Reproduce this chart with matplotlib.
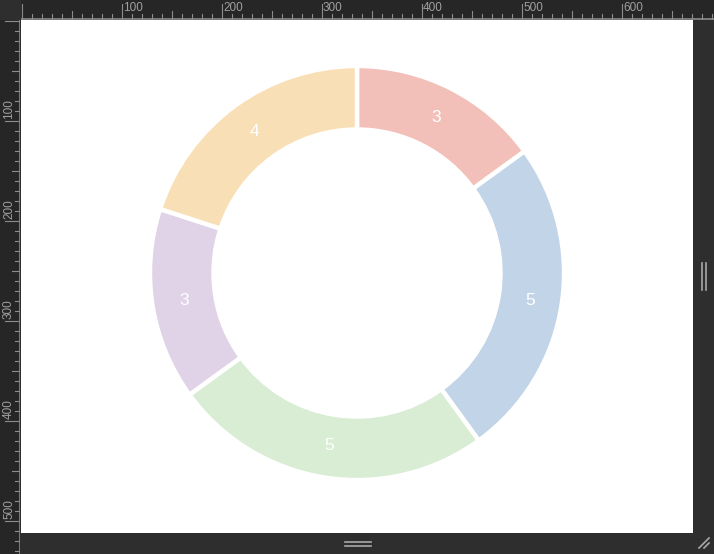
import matplotlib.pyplot as plt
from matplotlib.lines import Line2D

# donut data, clockwise from 12 o'clock
values = [3, 5, 5, 3, 4]
colors = ["#f2c0b9", "#c2d4e7", "#d8edd3", "#e0d3e8", "#f9dfb5"]

# ruler labels
top_ruler_labels = [100, 200, 300, 400, 500, 600]
left_ruler_labels = [100, 200, 300, 400, 500]

W, H = 714, 554
fig = plt.figure(figsize=(W / 100, H / 100), dpi=100)
fig.patch.set_facecolor("#2e2e2e")

ruler_bg = "#262626"
tick_col = "#8c8c8c"
text_col = "#a0a0a0"

# white panel with the donut
ax = fig.add_axes([21 / W, 21 / H, 672 / W, 513 / H])

total = sum(values)
wedges, texts, autotexts = ax.pie(
    values,
    colors=colors,
    startangle=90,
    counterclock=False,
    radius=1.01,
    wedgeprops=dict(width=0.31, edgecolor="white", linewidth=3.2),
    autopct=lambda p: f"{round(p * total / 100)}",
    pctdistance=0.845,
    textprops=dict(color="white", fontsize=12.5, family="Liberation Sans"),
)
ax.set_frame_on(True)
ax.set_facecolor("white")
ax.set_xticks([])
ax.set_yticks([])
for s in ax.spines.values():
    s.set_visible(False)
ax.set_xlim(-1.639, 1.639)
ax.set_ylim(-1.268, 1.234)

# top ruler
rt = fig.add_axes([21 / W, (H - 20) / H, (W - 21) / W, 20 / H])
rt.set_facecolor(ruler_bg)
rt.set_xlim(0, W - 21)
rt.set_ylim(0, 20)
rt.set_xticks([])
rt.set_yticks([])
for s in rt.spines.values():
    s.set_visible(False)
for t in range(0, W - 21, 10):
    if t % 100 == 0:
        ln = 15
    elif t % 50 == 0:
        ln = 8
    else:
        ln = 5
    rt.plot([t + 0.5, t + 0.5], [1, 1 + ln], color=tick_col, lw=0.8)
rt.axhline(0.8, color=tick_col, lw=1.2)
for t in top_ruler_labels:
    rt.text(t + 2, 18, str(t), color=text_col, fontsize=8.5, ha="left", va="top",
            family="Liberation Sans")

# left ruler
rl = fig.add_axes([0, 0, 20 / W, (H - 20) / H])
rl.set_facecolor(ruler_bg)
rl.set_xlim(0, 20)
rl.set_ylim(H - 20, 0)
rl.set_xticks([])
rl.set_yticks([])
for s in rl.spines.values():
    s.set_visible(False)
for t in range(0, H - 20, 10):
    if t % 100 == 0:
        ln = 15
    elif t % 50 == 0:
        ln = 8
    else:
        ln = 5
    rl.plot([19.5 - ln, 19.5], [t + 0.5, t + 0.5], color=tick_col, lw=0.8)
rl.axvline(19.5, color=tick_col, lw=1.2)
for t in left_ruler_labels:
    rl.text(9, t - 1, str(t), color=text_col, fontsize=8.5, rotation=90,
            ha="center", va="bottom", family="Liberation Sans")

# window handles
handle = "#a8a8a8"
for x in (701.5, 705.5):
    fig.add_artist(Line2D([x / W, x / W], [(H - 263) / H, (H - 290) / H],
                          color=handle, lw=1.2))
for y in (541.5, 545.5):
    fig.add_artist(Line2D([345 / W, 371 / W], [(H - y) / H, (H - y) / H],
                          color=handle, lw=1.2))
for d in (0, 5):
    fig.add_artist(Line2D([(699 + d) / W, 709 / W], [(H - 548) / H, (H - 538 - d) / H],
                          color=handle, lw=1.2))

fig.savefig("out.png", dpi=100, facecolor=fig.get_facecolor())
